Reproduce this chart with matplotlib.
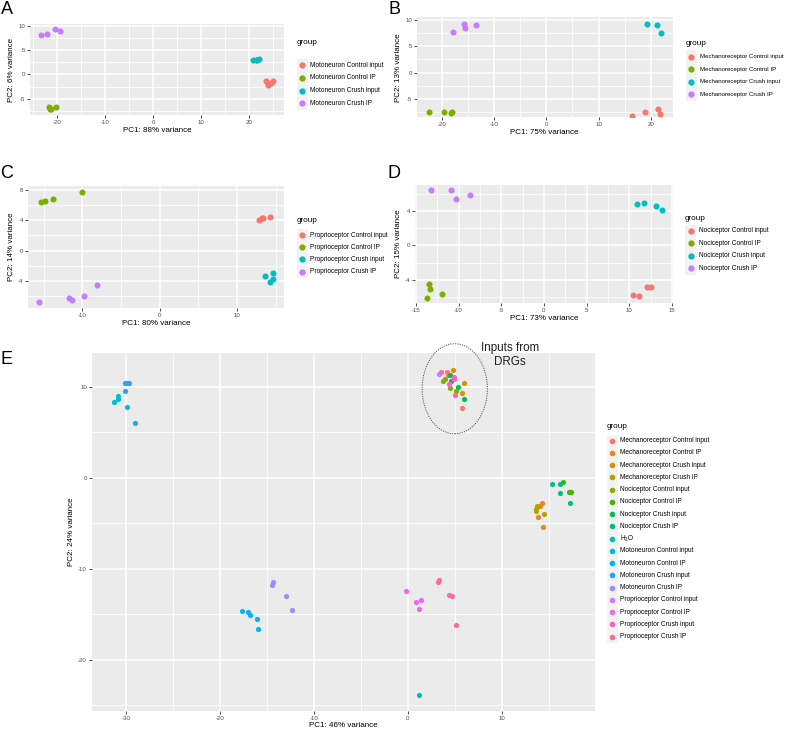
import numpy as np
import matplotlib
matplotlib.use('Agg')
import matplotlib.pyplot as plt
from matplotlib.lines import Line2D
from matplotlib.patches import Ellipse, Rectangle

plt.rcParams['font.family'] = ['Liberation Sans', 'DejaVu Sans']
plt.rcParams['mathtext.fontset'] = 'custom'
plt.rcParams['mathtext.rm'] = 'Liberation Sans'
plt.rcParams['axes.unicode_minus'] = False

W, H = 787, 729

# ---- panel A: motoneuron ----
a_labels = ['Motoneuron Control input', 'Motoneuron Control IP',
            'Motoneuron Crush input', 'Motoneuron Crush IP']
a_x = [[23.5, 24.0, 24.6, 25.0], [-21.7, -21.5, -21.2, -20.2],
       [20.8, 21.5, 21.7, 22.1], [-23.4, -22.1, -20.5, -19.4]]
a_y = [[-1.4, -2.1, -1.7, -1.3], [-6.7, -7.1, -7.2, -6.7],
       [3.0, 2.9, 3.0, 3.2], [8.2, 8.3, 9.4, 9.0]]

# ---- panel B: mechanoreceptor ----
b_labels = ['Mechanoreceptor Control input', 'Mechanoreceptor Control IP',
            'Mechanoreceptor Crush input', 'Mechanoreceptor Crush IP']
b_x = [[16.5, 18.9, 21.3, 21.7], [-22.5, -19.6, -18.3, -18.0],
       [19.3, 21.1, 22.0], [-15.7, -15.5, -13.4, -17.9]]
b_y = [[-8.2, -7.4, -7.0, -7.8], [-7.4, -7.4, -7.7, -7.4],
       [9.2, 9.1, 7.6], [9.3, 8.5, 9.0, 7.7]]

# ---- panel C: proprioceptor ----
c_labels = ['Proprioceptor Control input', 'Proprioceptor Control IP',
            'Proprioceptor Crush input', 'Proprioceptor Crush IP']
c_x = [[12.8, 13.2, 13.4, 14.3], [-15.3, -14.9, -13.8, -10.0],
       [13.6, 14.3, 14.6, 14.7], [-15.6, -11.7, -11.4, -9.8, -8.1]]
c_y = [[4.0, 4.2, 4.3, 4.4], [6.4, 6.5, 6.7, 7.7],
       [-3.4, -4.1, -3.0, -3.8], [-6.8, -6.2, -6.5, -6.0, -4.5]]

# ---- panel D: nociceptor ----
d_labels = ['Nociceptor Control input', 'Nociceptor Control IP',
            'Nociceptor Crush input', 'Nociceptor Crush IP']
d_x = [[10.4, 11.2, 12.1, 12.6], [-13.5, -13.3, -13.7, -11.9],
       [10.9, 11.7, 13.1, 13.8], [-13.2, -10.9, -10.3, -8.6]]
d_y = [[-5.75, -5.8, -4.8, -4.8], [-4.5, -5.0, -6.1, -5.6],
       [4.8, 4.9, 4.6, 4.1], [6.4, 6.4, 5.4, 5.8]]

# ---- panel E: all samples ----
e_labels = ['Mechanoreceptor Control input', 'Mechanoreceptor Control IP',
            'Mechanoreceptor Crush input', 'Mechanoreceptor Crush IP',
            'Nociceptor Control input', 'Nociceptor Control IP',
            'Nociceptor Crush input', 'Nociceptor Crush IP', 'H$_2$O',
            'Motoneuron Control input', 'Motoneuron Control IP',
            'Motoneuron Crush input', 'Motoneuron Crush IP',
            'Proprioceptor Control input', 'Proprioceptor Control IP',
            'Proprioceptor Crush input', 'Proprioceptor Crush IP']
e_x = [[3.5, 4.2, 4.3, 5.8],
       [14.3, 14.1, 13.9, 14.4],
       [4.8, 6.0, 5.8],
       [13.8, 13.7, 14.5, 13.7],
       [4.0, 3.7, 4.5, 5.1],
       [16.55, 17.15, 17.42, 17.3],
       [4.5, 4.65, 5.3, 5.95],
       [15.36, 16.17, 16.24, 17.27],
       [1.2],
       [-31.3, -30.9, -30.9, -29.9, -29.1],
       [-17.65, -17.0, -16.8, -16.1, -16.0],
       [-30.2, -29.75, -30.0, -30.1],
       [-14.4, -14.45, -13.0, -12.3],
       [3.37],
       [-0.25, 0.92, 1.41, 1.24],
       [4.96, 4.9, 4.36, 5.04],
       [3.36, 3.25, 4.35, 4.7, 5.09]]
e_y = [[11.65, 11.65, 11.3, 7.69],
       [-2.72, -3.09, -4.26, -5.44],
       [11.87, 10.44, 9.34],
       [-3.09, -3.6, -3.97, -3.38],
       [10.9, 10.62, 9.89, 9.52],
       [-0.4, -1.55, -1.55, -1.6],
       [11.36, 10.62, 9.96, 8.72],
       [-0.65, -0.7, -1.62, -2.73],
       [-23.85],
       [8.3, 9.0, 8.7, 7.8, 6.0],
       [-14.6, -14.7, -15.1, -15.5, -16.6],
       [10.4, 10.4, 10.45, 9.5],
       [-11.5, -11.8, -13.0, -14.5],
       [11.47],
       [-12.42, -13.7, -13.48, -14.43],
       [11.06, 10.9, 10.37, 9.08],
       [-11.28, -11.5, -12.9, -13.04, -16.19]]


def hcl_hex(h, c=100, l=65):
    # ggplot2 / scales::hue_pal colour (polarLUV -> sRGB)
    hr = np.deg2rad(h)
    U, V = c * np.cos(hr), c * np.sin(hr)
    Xn, Yn, Zn = 95.047, 100.0, 108.883
    Y = Yn * ((l + 16) / 116) ** 3
    t = Xn + Yn + Zn
    x, y = Xn / t, Yn / t
    un = 2 * x / (6 * y - x + 1.5)
    vn = 4.5 * y / (6 * y - x + 1.5)
    u = U / (13 * l) + un
    v = V / (13 * l) + vn
    X = 9.0 * Y * u / (4 * v)
    Z = -X / 3 - 5 * Y + 3 * Y / v
    rgb = np.array([3.240479 * X - 1.537150 * Y - 0.498535 * Z,
                    -0.969256 * X + 1.875992 * Y + 0.041556 * Z,
                    0.055648 * X - 0.204043 * Y + 1.057311 * Z]) / 100
    rgb = np.where(rgb > 0.00304, 1.055 * np.abs(rgb) ** (1 / 2.4) - 0.055, 12.92 * rgb)
    rgb = np.clip(rgb, 0, 1)
    return '#%02x%02x%02x' % tuple(int(round(v * 255)) for v in rgb)


def hue_pal(n):
    return [hcl_hex(h) for h in np.linspace(15, 375 - 360 / n, n)]


fig = plt.figure(figsize=(W / 100, H / 100), dpi=100)


def panel(l, t, r, b):
    return fig.add_axes([l / W, 1 - b / H, (r - l) / W, (b - t) / H])


def style(ax, xlim, ylim, xmaj, ymaj, xmin, ymin, xlab, ylab, tsize=4.4, lsize=5.8):
    ax.set_facecolor('#EBEBEB')
    for s in ax.spines.values():
        s.set_visible(False)
    ax.set_xlim(xlim)
    ax.set_ylim(ylim)
    ax.set_xticks(xmaj)
    ax.set_yticks(ymaj)
    ax.set_xticks(xmin, minor=True)
    ax.set_yticks(ymin, minor=True)
    ax.grid(True, which='major', color='white', lw=1.1)
    ax.grid(True, which='minor', color='white', lw=0.55)
    ax.set_axisbelow(True)
    ax.tick_params(which='major', length=2, width=0.6, color='#333333',
                   labelcolor='#4D4D4D', labelsize=tsize, pad=1.5)
    ax.tick_params(which='minor', length=0)
    ax.set_xlabel(xlab, fontsize=lsize, labelpad=1.5)
    ax.set_ylabel(ylab, fontsize=lsize, labelpad=2.2)


def legend(x0, ytitle, y0, dy, labels, colors, ms=3.5, fs=4.6):
    fig.text(x0 / W, 1 - ytitle / H, 'group', fontsize=5.9, va='center', ha='left')
    kw = 11
    n = len(labels)
    fig.add_artist(Rectangle((x0 / W, 1 - (y0 + (n - 0.5) * dy) / H), kw / W, n * dy / H,
                             transform=fig.transFigure, facecolor='#F2F2F2',
                             edgecolor='none'))
    for i, (lab, col) in enumerate(zip(labels, colors)):
        yy = 1 - (y0 + i * dy) / H
        fig.add_artist(Line2D([(x0 + kw / 2) / W], [yy], marker='o', ms=ms, color=col,
                              mec=col, transform=fig.transFigure, ls='none'))
        fig.text((x0 + kw + 3) / W, yy, lab, fontsize=fs, va='center', ha='left')


four = hue_pal(4)

# A
ax = panel(30, 24, 284.3, 115)
for xs, ys, col in zip(a_x, a_y, four):
    ax.scatter(xs, ys, s=19, color=col, lw=0)
style(ax, (-25.6, 27.3), (-8.35, 10.4), [-20, -10, 0, 10, 20], [-5, 0, 5, 10],
      [-25, -15, -5, 5, 15, 25], [-7.5, -2.5, 2.5, 7.5],
      'PC1: 88% variance', 'PC2: 6% variance')
legend(296.5, 42.7, 65.3, 12.67, a_labels, four, fs=4.7)

# B
ax = panel(416.7, 17.3, 672.7, 117.3)
for xs, ys, col in zip(b_x, b_y, four):
    ax.scatter(xs, ys, s=19, color=col, lw=0)
style(ax, (-24.8, 24.2), (-8.5, 10.5), [-20, -10, 0, 10, 20], [-5, 0, 5, 10],
      [-15, -5, 5, 15], [-7.5, -2.5, 2.5, 7.5],
      'PC1: 75% variance', 'PC2: 13% variance')
legend(685.5, 43.3, 56.7, 12.53, b_labels, four, fs=4.4)

# C
ax = panel(28.3, 185.7, 284.3, 307.7)
for xs, ys, col in zip(c_x, c_y, four):
    ax.scatter(xs, ys, s=19, color=col, lw=0)
style(ax, (-17.0, 16.1), (-7.5, 8.5), [-10, 0, 10], [-4, 0, 4, 8],
      [-15, -5, 5, 15], [-6, -2, 2, 6],
      'PC1: 80% variance', 'PC2: 14% variance')
legend(296.5, 221, 235, 12.2, c_labels, four, fs=4.7)

# D
ax = panel(415, 185, 672.7, 302.7)
for xs, ys, col in zip(d_x, d_y, four):
    ax.scatter(xs, ys, s=19, color=col, lw=0)
style(ax, (-15.1, 15.1), (-6.63, 7.0), [-15, -10, -5, 0, 5, 10, 15], [-4, 0, 4],
      [-12.5, -7.5, -2.5, 2.5, 7.5, 12.5], [-6, -2, 2, 6],
      'PC1: 73% variance', 'PC2: 15% variance')
legend(685, 218.3, 231, 12.43, d_labels, four, fs=4.7)

# E
many = hue_pal(17)
ax = panel(91.7, 353.3, 595, 710.7)
for xs, ys, col in zip(e_x, e_y, many):
    ax.scatter(xs, ys, s=14, color=col, lw=0)
style(ax, (-33.7, 19.95), (-25.6, 13.7), [-30, -20, -10, 0, 10], [-20, -10, 0, 10],
      [-25, -15, -5, 5, 15], [-25, -15, -5, 5],
      'PC1: 46% variance', 'PC2: 24% variance')
ax.xaxis.labelpad = 0.8
ax.add_patch(Ellipse((5.0, 9.8), 6.96, 9.9, fill=False, ec='#555555', lw=0.7,
                     ls=(0, (1.2, 1.2)), clip_on=False))
ax.text(10.9, 13.5, 'Inputs from\nDRGs', fontsize=8.4, ha='center', va='center',
        color='#222222', linespacing=1.15, clip_on=False)
legend(606.5, 426.7, 440.7, 12.24, e_labels, many, ms=3.0, fs=4.7)

# panel letters
for lab, px, py in [('A', 7, 9), ('B', 394, 9), ('C', 7, 173), ('D', 394, 173), ('E', 7, 359)]:
    fig.text(px / W, 1 - py / H, lab, fontsize=13, ha='center', va='center')

fig.savefig('out.png', dpi=100)
